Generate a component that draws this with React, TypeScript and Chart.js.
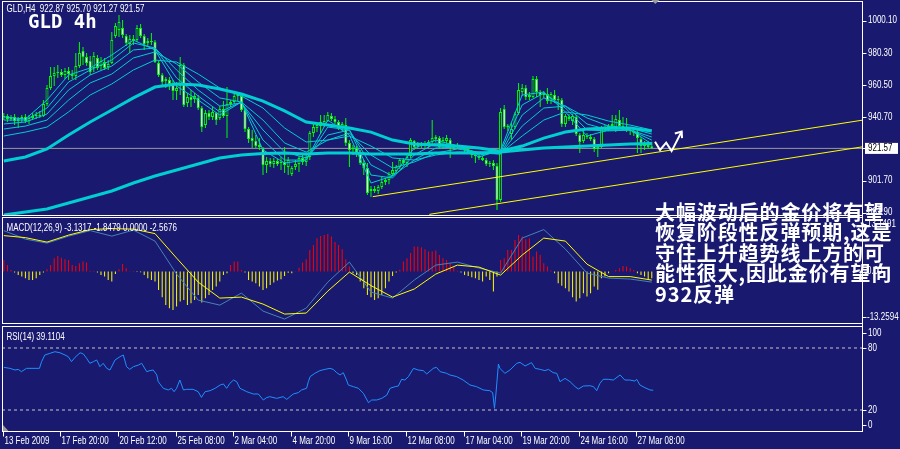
import React, { useEffect, useRef } from 'react';
import { Chart, registerables } from 'chart.js';

Chart.register(...registerables);

// ---------- data ----------
const OPEN = [
  940.9, 941.5, 939.6, 940.9, 938.4, 939.6, 940.9, 938.4, 940.3, 941.5, 942.1,
  941.5, 948.9, 958.7, 966.1, 967.9, 968.6, 966.7, 969.2, 967.3, 966.1,
  972.2, 981.5, 977.8, 975.3, 971.0, 977.2, 972.2, 974.7, 971.6, 974.1,
  990.7, 994.4, 995.6, 990.7, 985.8, 988.9, 988.2, 995.6, 990.7, 986.4,
  987.6, 987.0, 974.1, 966.7, 963.0, 963.6, 960.6, 956.9, 959.9, 972.9,
  949.5, 953.2, 951.9, 952.6, 946.4, 935.9, 943.3, 940.9, 943.3, 940.3,
  945.8, 941.5, 948.9, 950.1, 953.8, 953.8, 945.2, 933.5, 927.9, 926.1,
  923.7, 921.8, 911.4, 913.8, 912.0, 913.8, 912.6, 913.2, 910.1, 905.8,
  910.1, 912.0, 915.7, 913.2, 916.3, 931.0, 934.1, 935.3, 936.6, 938.4,
  941.5, 939.6, 937.8, 934.7, 935.9, 924.9, 921.2, 921.8, 918.7, 912.6,
  909.5, 895.4, 896.6, 895.4, 897.8, 900.9, 902.2, 905.8, 907.7, 910.1,
  914.4, 912.6, 916.9, 926.1, 923.0, 924.3, 923.0, 924.3, 925.5, 927.3,
  927.9, 923.0, 926.1, 926.7, 921.8, 923.7, 922.4, 921.8, 921.2, 919.3,
  917.5, 916.9, 915.7, 914.4, 912.0, 912.6, 910.7, 889.8, 945.8, 934.7,
  930.4, 934.7, 943.3, 956.2, 958.7, 953.2, 953.2, 964.2, 956.2, 954.4,
  955.0, 950.7, 954.4, 951.9, 951.3, 936.6, 940.9, 938.4, 940.9, 929.8,
  926.1, 929.2, 928.6, 927.3, 921.2, 922.4, 934.1, 932.9, 935.3, 934.7,
  939.0, 935.3, 934.1, 932.9, 932.3, 931.6, 927.3, 923.0, 923.7, 922.87,
];
const HIGH = [
  943.3, 942.7, 942.1, 942.7, 940.9, 942.1, 942.7, 942.1, 943.3, 944.0, 944.6,
  951.3, 960.6, 971.6, 971.6, 972.9, 970.4, 971.0, 971.6, 969.8, 980.2,
  987.0, 983.9, 980.2, 978.4, 980.9, 979.0, 977.8, 977.2, 975.9, 993.1,
  998.7, 1003.6, 1000.5, 991.9, 991.3, 991.3, 997.5, 998.1, 991.9, 989.5,
  992.5, 988.2, 975.3, 967.9, 965.5, 965.5, 963.6, 962.4, 977.8, 974.1,
  955.6, 957.5, 955.6, 954.4, 947.6, 945.2, 945.2, 947.0, 944.0, 947.6,
  950.7, 959.3, 951.3, 955.6, 956.2, 955.6, 946.4, 934.7, 932.9, 929.8,
  927.9, 922.4, 916.3, 915.7, 915.7, 915.0, 916.3, 922.4, 916.3, 910.7,
  914.4, 916.9, 917.5, 917.5, 932.3, 937.2, 936.6, 942.1, 942.1, 944.0,
  943.3, 941.5, 939.0, 937.8, 940.3, 926.7, 923.7, 923.0, 920.6, 914.4,
  912.6, 898.4, 898.4, 899.0, 904.0, 903.4, 907.1, 913.2, 911.4, 915.7,
  915.7, 917.5, 927.9, 926.7, 925.5, 925.5, 926.1, 926.7, 939.0, 929.8,
  929.2, 928.6, 929.8, 927.9, 924.3, 924.9, 923.7, 923.0, 922.4, 920.6,
  919.3, 918.1, 916.9, 915.7, 913.8, 914.4, 912.6, 946.4, 948.3, 936.6,
  937.2, 944.0, 961.8, 961.2, 960.6, 956.2, 966.1, 966.1, 957.5, 956.9,
  958.7, 956.2, 957.5, 953.8, 952.6, 942.7, 942.7, 942.7, 942.1, 931.0,
  932.3, 931.0, 930.4, 928.6, 923.7, 935.3, 935.9, 936.6, 942.1, 942.1,
  945.2, 940.9, 940.3, 934.7, 934.1, 932.9, 928.6, 926.1, 926.1, 925.70,
];
const LOW = [
  939.0, 937.8, 938.4, 935.9, 934.1, 937.8, 937.2, 936.6, 939.0, 939.6, 940.3,
  940.9, 947.6, 957.5, 959.9, 964.9, 965.5, 964.2, 963.6, 964.2, 963.6,
  971.0, 972.9, 972.2, 966.7, 968.6, 969.8, 969.8, 969.8, 969.8, 973.5,
  989.5, 990.1, 989.5, 984.5, 980.2, 985.2, 987.0, 989.5, 982.1, 983.9,
  985.2, 974.1, 965.5, 959.9, 958.7, 957.5, 951.3, 951.3, 954.4, 947.0,
  947.0, 947.0, 949.5, 945.2, 931.6, 934.1, 939.0, 939.0, 935.9, 939.0,
  940.3, 927.9, 947.0, 948.9, 950.7, 944.0, 931.6, 924.9, 921.8, 921.8,
  920.6, 905.2, 906.4, 910.1, 909.5, 910.7, 908.3, 906.4, 905.2, 904.6,
  908.3, 907.1, 911.4, 910.7, 914.4, 928.6, 931.6, 931.0, 934.7, 937.8,
  938.4, 936.6, 932.9, 932.3, 923.0, 910.1, 917.5, 916.3, 911.4, 905.2,
  892.9, 891.7, 894.1, 893.5, 896.6, 899.0, 899.6, 904.6, 905.8, 908.9,
  911.4, 910.1, 915.7, 920.6, 921.2, 921.8, 921.2, 921.8, 924.3, 925.5,
  921.2, 921.2, 922.4, 915.7, 920.6, 921.2, 920.6, 919.3, 918.1, 915.7,
  912.6, 914.4, 913.8, 910.7, 910.1, 908.3, 883.7, 888.6, 933.5, 932.3,
  926.7, 933.5, 942.1, 953.8, 951.3, 951.3, 952.6, 953.2, 947.0, 952.6,
  948.9, 948.9, 949.5, 945.2, 934.7, 934.7, 938.4, 935.9, 929.2, 918.7,
  924.9, 927.3, 926.1, 919.3, 916.3, 921.8, 931.6, 932.3, 933.5, 931.6,
  933.5, 932.9, 931.6, 929.8, 929.2, 918.7, 918.7, 920.6, 921.2, 921.27,
];
const CLOSE = [
  941.5, 939.6, 940.9, 938.4, 939.6, 940.9, 938.4, 940.3, 941.5, 942.1, 941.5,
  948.9, 958.7, 966.1, 967.9, 968.6, 966.7, 969.2, 967.3, 966.1, 972.2,
  980.2, 977.8, 974.1, 968.6, 978.4, 971.0, 975.3, 971.0, 973.5, 988.2,
  996.8, 999.3, 991.3, 986.4, 988.9, 987.6, 995.6, 990.7, 985.8, 987.6,
  987.0, 974.7, 966.7, 962.4, 964.2, 961.2, 956.9, 958.7, 972.9, 948.3,
  953.2, 951.3, 953.8, 946.4, 934.7, 943.3, 940.9, 944.0, 939.0, 945.8,
  941.5, 948.9, 950.1, 953.8, 955.0, 945.2, 933.5, 927.3, 926.1, 923.0,
  922.4, 911.4, 913.8, 912.0, 913.8, 912.0, 913.2, 911.4, 914.4, 909.5,
  912.0, 915.7, 913.2, 916.3, 931.0, 934.7, 935.9, 937.8, 938.4, 942.1,
  939.6, 937.8, 934.1, 936.6, 924.9, 920.6, 921.8, 918.7, 912.6, 909.5,
  894.1, 896.6, 895.4, 897.8, 900.9, 902.2, 905.8, 908.3, 910.1, 914.4,
  912.6, 916.3, 926.7, 922.4, 924.3, 923.0, 924.9, 925.5, 927.9, 928.6,
  922.4, 926.7, 927.9, 921.8, 923.7, 922.4, 921.8, 920.6, 919.3, 917.5,
  916.9, 915.7, 914.4, 912.0, 912.6, 910.7, 889.8, 944.0, 934.7, 935.3,
  933.5, 942.7, 957.5, 958.7, 953.2, 954.4, 964.2, 956.2, 954.4, 955.6,
  950.7, 955.0, 951.3, 951.3, 936.6, 941.5, 939.6, 941.5, 930.4, 925.5,
  929.8, 928.6, 927.3, 921.2, 922.4, 934.1, 932.9, 935.3, 936.6, 939.6,
  935.3, 934.1, 932.9, 932.3, 931.0, 927.9, 923.0, 924.3, 922.4, 921.57,
];

// moving averages, read every MA_STEP bars
const MA_STEP = 6;
const MA_SLOW = [880.6, 882.4, 884.3, 888.0, 891.7, 895.4, 900.3, 904.6, 908.3, 912.0, 915.7, 917.5, 918.4, 918.7, 918.1, 918.7, 918.7, 918.1, 918.1, 918.1, 918.7, 918.7, 918.7, 919.3, 920.6, 921.8, 922.4, 923.0, 923.7, 924.3, 924.6];
const MA_MID = [913.8, 916.3, 921.2, 929.8, 937.8, 945.2, 952.6, 959.3, 961.2, 960.6, 958.1, 955.0, 950.7, 944.6, 937.8, 935.9, 934.1, 931.6, 926.7, 924.3, 923.7, 923.0, 921.8, 919.9, 923.0, 927.9, 931.6, 933.5, 934.1, 934.1, 932.3];
const MA_F1 = [940.9, 939.6, 951.3, 966.7, 971.0, 979.0, 988.2, 982.1, 959.9, 951.3, 942.1, 950.1, 920.6, 912.6, 914.4, 939.0, 929.8, 900.3, 904.6, 921.8, 926.7, 923.0, 916.3, 920.6, 954.4, 956.2, 944.0, 929.2, 932.9, 932.9, 924.3];
const MA_F2 = [939.0, 939.0, 946.4, 962.4, 969.8, 975.9, 986.4, 983.3, 964.9, 953.8, 944.0, 950.1, 926.7, 914.4, 914.4, 934.7, 932.9, 905.2, 903.4, 917.5, 924.9, 923.0, 917.5, 919.3, 948.3, 955.6, 946.4, 932.9, 932.3, 932.9, 926.7];
const MA_F3 = [936.6, 937.8, 942.7, 957.5, 966.7, 972.2, 982.1, 983.3, 969.8, 957.5, 947.6, 949.5, 932.9, 919.3, 915.7, 929.8, 932.9, 911.4, 904.6, 914.4, 921.8, 922.4, 918.7, 918.1, 942.1, 952.6, 947.6, 936.6, 932.9, 932.9, 928.6];
const MA_F4 = [933.5, 935.3, 939.0, 951.3, 961.8, 967.3, 977.2, 980.9, 973.5, 962.4, 952.6, 950.1, 939.0, 924.9, 919.3, 926.7, 931.0, 917.5, 909.5, 913.2, 918.7, 921.2, 919.3, 918.1, 935.3, 946.4, 947.6, 940.3, 935.3, 934.1, 930.4];
const MA_F5 = [929.2, 931.6, 934.7, 944.0, 954.4, 961.2, 969.8, 975.9, 974.7, 967.3, 958.7, 953.8, 946.4, 934.1, 925.5, 926.7, 929.2, 923.0, 915.7, 914.4, 917.5, 919.3, 919.3, 918.7, 929.2, 939.0, 944.0, 942.1, 938.4, 935.9, 932.9];

// MACD lines (every MA_STEP bars) and histogram (every bar)
const MACD_MAIN = [10.41, 8.25, 7.24, 9.01, 10.41, 9.01, 10.54, 7.75, -0.63, -7.24, -8.51, -5.46, -10.03, -12.06, -9.27, -2.67, 2.41, -5.21, -6.73, -2.16, 1.65, 2.41, 0.89, -0.38, 8.51, 10.67, 5.71, -0.38, -1.65, -1.9, -2.67];
const MACD_SIGNAL = [9.14, 8.63, 7.49, 9.27, 10.67, 10.92, 10.79, 9.65, 3.43, -2.67, -6.73, -6.48, -8.25, -10.79, -10.54, -4.95, -0.13, -3.56, -6.48, -4.44, -0.63, 1.65, 1.14, -0.89, 4.19, 8.51, 7.75, 1.9, -1.27, -1.27, -2.16];
const MACD_HIST = [
  2.96, 1.69, 0.42, -0.2, -0.85, -1.27, -1.69, -2.12, -2.12, -1.69,
  -0.85, -0.2, 0.59, 1.69, 3.39, 3.98, 3.5, 3.13, 2.96, 1.69,
  1.44, 2.12, 2.54, 2.29, 0.2, 0.17, -0.2, -0.85, -1.27, -2.12,
  -2.54, -0.59, 0.59, 1.95, 0.85, 0.1, 0.17, -0.1, -0.17, -0.85,
  -1.69, -2.12, -2.54, -4.66, -6.52, -8.47, -9.31, -9.74, -8.89, -7.62,
  -7.2, -8.47, -8.04, -7.2, -5.93, -7.87, -6.77, -5.93, -4.66, -3.81,
  -2.54, -0.85, -0.42, 1.69, 2.54, 2.54, 0.42, -0.25, -2.12, -2.54,
  -2.96, -3.8, -4.66, -4.23, -3.39, -2.79, -2.29, -1.95, -1.1, -0.3,
  -0.42, 0.1, 1.0, 2.29, 3.13, 5.5, 6.77, 8.47, 9.06, 9.31,
  9.57, 8.89, 7.5, 6.77, 5.67, 3.13, 1.27, -0.42, -0.85, -2.54,
  -4.2, -5.93, -6.52, -7.2, -6.77, -5.93, -4.23, -2.54, -1.1, -0.2,
  0.5, 2.54, 3.39, 4.7, 6.35, 6.35, 6.18, 5.67, 5.08, 5.08,
  5.33, 4.23, 3.39, 2.96, 2.12, 1.1, 0.2, -0.2, -0.85, -1.1,
  -1.44, -1.69, -2.12, -2.54, -1.27, -2.12, -5.08, -1.27, 2.96, 3.39,
  5.5, 5.5, 8.04, 9.31, 8.89, 8.22, 8.47, 3.81, 5.08, 4.23,
  2.12, 1.27, 0.3, -0.42, -2.96, -3.6, -4.23, -5.08, -6.52, -7.62,
  -6.77, -5.5, -6.35, -5.5, -3.81, -4.6, -1.69, -1.27, -0.4, 0.1,
  0.42, 0.85, 1.44, 1.27, 0.85, 0.42, -0.42, -0.85, -1.27, -1.95, -1.69,
];

// RSI(14) vertices: bar position and value
const RSI_X = [
  0, 1.7, 3.1, 4.0, 4.9, 6.3, 9.9, 10.5, 11.4, 12.8, 14.2, 15.6, 17.0, 17.9, 18.8, 19.8, 21.2, 22.1, 23.0, 23.9,
  24.9, 25.8, 26.7, 27.6, 28.6, 29.5, 30.9, 32.3, 33.2, 34.1, 35.0, 36.0, 37.4, 38.3, 39.7, 40.6, 41.5, 42.5, 42.9, 44.3,
  45.7, 46.6, 47.3, 48.0, 48.9, 49.9, 50.8, 52.6, 54.0, 54.9, 55.9, 57.3, 58.7, 60.1, 61.0, 61.9, 62.8, 63.8, 64.7, 65.6,
  67.5, 69.3, 70.7, 72.1, 73.0, 73.9, 75.8, 77.6, 78.6, 79.5, 80.4, 81.8, 82.7, 84.1, 84.6, 85.1, 86.4, 87.8, 89.2, 90.6,
  91.5, 92.5, 93.4, 94.3, 95.2, 95.7, 97.1, 98.5, 99.9, 101.3, 102.2, 103.6, 105.0, 106.4, 107.3, 108.7, 109.6, 110.5, 111.4, 112.4,
  113.8, 115.1, 116.5, 117.5, 119.3, 120.2, 121.2, 123.0, 123.9, 125.8, 127.6, 129.5, 131.3, 133.2, 135.0, 135.8, 136.3, 136.7, 137.0, 137.4,
  137.8, 139.2, 140.6, 142.5, 143.4, 144.8, 146.6, 147.6, 149.0, 150.3, 151.3, 152.6, 153.6, 154.5, 155.9, 157.3, 158.7, 159.6, 161.0, 162.8,
  163.8, 164.7, 165.6, 166.5, 167.9, 169.3, 171.2, 172.5, 173.9, 175.3, 175.8, 176.7, 178.1, 179.5, 180.4,
];
const RSI_V = [
  61.3, 60.3, 58.7, 59.3, 57.1, 60.3, 60.3, 66.8, 73.2, 74.8, 76.4, 75.4, 73.2, 71.6, 66.8, 71.0, 75.4, 74.2, 70.0, 65.2,
  66.8, 68.4, 61.9, 65.2, 60.3, 58.7, 68.4, 71.6, 73.2, 61.9, 59.3, 61.9, 63.5, 65.2, 57.1, 58.1, 58.7, 53.9, 47.4, 41.0,
  39.4, 41.0, 37.7, 41.0, 49.0, 39.4, 40.0, 40.0, 37.7, 32.2, 37.7, 38.7, 41.0, 44.2, 45.2, 41.0, 45.8, 49.0, 47.4, 41.0,
  37.7, 35.5, 35.5, 29.7, 32.0, 32.9, 31.3, 32.9, 30.3, 32.9, 35.5, 36.8, 39.4, 41.0, 47.4, 52.3, 55.5, 58.1, 59.3, 60.3,
  59.3, 56.1, 53.9, 56.1, 49.0, 44.2, 42.6, 41.0, 36.1, 27.1, 29.7, 29.7, 31.3, 34.5, 41.0, 42.6, 43.2, 49.7, 49.0, 52.3,
  60.3, 58.7, 58.1, 54.9, 60.3, 61.3, 57.1, 55.5, 53.9, 52.3, 49.0, 44.2, 42.6, 39.4, 38.7, 36.8, 21.6, 35.5, 48.0, 64.5,
  60.3, 55.5, 58.7, 65.2, 66.1, 62.6, 65.8, 60.3, 59.3, 58.1, 59.3, 56.1, 55.5, 47.4, 50.6, 47.4, 42.6, 40.3, 43.2, 43.5,
  42.6, 38.7, 45.8, 49.7, 49.7, 49.0, 53.9, 49.0, 49.0, 48.0, 49.7, 44.2, 41.6, 39.4, 39.1,
];
const RSI_LEVELS = [80, 20];

// trend lines and hand-drawn arrow (bar position, price)
const TREND_A_X = [102.5, 238.7];
const TREND_A_Y = [891.9, 939.0];
const TREND_B_X = [118.2, 238.7];
const TREND_B_Y = [881.0, 922.6];
const ARROW_X = [180.9, 182.3, 184.0, 185.5, 188.3];
const ARROW_Y = [925.7, 920.6, 925.1, 919.9, 931.96];
const ARROW_HEAD_X = [186.4, 188.3, 188.4];
const ARROW_HEAD_Y = [930.7, 931.96, 927.9];

// axis labels
const TIME_LABELS = ['13 Feb 2009', '17 Feb 20:00', '20 Feb 12:00', '25 Feb 08:00', '2 Mar 04:00', '4 Mar 20:00', '9 Mar 16:00', '12 Mar 08:00', '17 Mar 04:00', '19 Mar 20:00', '24 Mar 16:00', '27 Mar 08:00'];
const LABEL_STEP = 16;
const PRICE_TICKS = [1000.1, 980.3, 960.5, 940.7, 901.7, 881.9];
const LAST_PRICE = 921.57;
const MACD_TICKS = [13.1491, 0, -13.2594];
const MACD_TICK_TEXT = ['13.1491', '0.00', '-13.2594'];
const RSI_TICKS = [100, 80, 20, 0];

const TITLE_MAIN = 'GLD,H4  922.87 925.70 921.27 921.57';
const TITLE_BIG = 'GLD 4h';
const TITLE_MACD = 'MACD(12,26,9) -3.1317 -1.8479 0.0000 -2.5676';
const TITLE_RSI = 'RSI(14) 39.1104';
const NOTE_LINES = ['大幅波动后的金价将有望', '恢复阶段性反弹预期,这是', '守住上升趋势线上方的可', '能性很大,因此金价有望向', '932反弹'];

// ---------- style ----------
const W = 900;
const H = 449;
const BG = '#191970';
const GREEN = '#00ff00';
const CYAN = '#00ced1';
const YELLOW = '#ffff00';
const RED = '#ff0000';
const STEEL = '#4682b4';
const RSI_BLUE = '#1e90ff';
const FONT = '10px "Liberation Sans", Arial, sans-serif';
const NARROW = 0.8;
const X_MIN = -0.5;
const X_MAX = 238.67;

const pts = (xs: number[], ys: number[]) => ys.map((y, k) => ({ x: xs[k], y }));
const MA_IDX = MA_SLOW.map((_, k) => k * MA_STEP);

const lineDs = (data: any[], color: string, width: number, yAxisID: string, order: number, extra: any = {}) => ({
  type: 'line',
  data,
  borderColor: color,
  backgroundColor: color,
  borderWidth: width,
  pointRadius: 0,
  tension: 0,
  fill: false,
  xAxisID: 'x',
  yAxisID,
  order,
  ...extra,
});

// narrow text, like the terminal's small bitmap font
const txt = (ctx: any, s: string, x: number, y: number) => {
  ctx.save();
  ctx.translate(x, y);
  ctx.scale(NARROW, 1);
  ctx.fillText(s, 0, 0);
  ctx.restore();
};

const framePlugin = {
  id: 'mt4Frame',
  beforeDraw(chart: any) {
    const ctx = chart.ctx;
    ctx.save();
    ctx.fillStyle = BG;
    ctx.fillRect(0, 0, chart.width, chart.height);
    ctx.restore();
  },
  beforeDatasetDraw(chart: any, args: any) {
    const id = args.meta.yAxisID;
    const s = chart.scales[id];
    const a = chart.chartArea;
    let t = s.top;
    let b = s.bottom;
    if (id === 'yMain') { t = s.top - 1; b = s.bottom - 1; }
    else if (id === 'yMacd') { t = s.top + 2; b = s.bottom - 1; }
    else { t = s.top + 3; b = s.bottom; }
    const ctx = chart.ctx;
    ctx.save();
    ctx.beginPath();
    ctx.rect(a.left + 1, t, a.right - a.left - 1, b - t);
    ctx.clip();
  },
  afterDatasetDraw(chart: any) {
    chart.ctx.restore();
  },
  afterDatasetsDraw(chart: any) {
    const ctx = chart.ctx;
    const a = chart.chartArea;
    const m = chart.scales.yMain;
    const d = chart.scales.yMacd;
    const r = chart.scales.yRsi;
    const xs = chart.scales.x;
    const L = a.left + 0.5;
    const R = a.right - 0.5;
    ctx.save();
    // panel frames
    ctx.strokeStyle = '#ffffff';
    ctx.lineWidth = 1;
    const panels = [
      [m.top - 0.5, m.bottom - 0.5],
      [d.top + 1.5, d.bottom - 0.5],
      [r.top + 2.5, r.bottom + 0.5],
    ];
    panels.forEach(([t, b]) => ctx.strokeRect(L, t, R - L, b - t));
    ctx.beginPath();
    ctx.moveTo(R, m.top - 0.5);
    ctx.lineTo(R, r.bottom + 0.5);
    ctx.stroke();

    // small grey markers
    ctx.fillStyle = '#9a9a9a';
    const shiftX = xs.getPixelForValue(CLOSE.length);
    ctx.beginPath();
    ctx.moveTo(shiftX - 4, m.top - 2);
    ctx.lineTo(shiftX + 4, m.top - 2);
    ctx.lineTo(shiftX, m.top + 2);
    ctx.closePath();
    ctx.fill();
    ctx.beginPath();
    ctx.moveTo(L + 0.5, r.bottom - 6);
    ctx.lineTo(L + 0.5, r.bottom);
    ctx.lineTo(L + 6, r.bottom);
    ctx.closePath();
    ctx.fill();

    ctx.font = FONT;
    ctx.textAlign = 'left';
    ctx.textBaseline = 'middle';
    const tick = (y: number) => {
      const yy = Math.round(y) + 0.5;
      ctx.strokeStyle = '#ffffff';
      ctx.beginPath();
      ctx.moveTo(R, yy);
      ctx.lineTo(R + 4, yy);
      ctx.stroke();
    };
    const clamp = (v: number, lo: number, hi: number) => Math.max(lo, Math.min(hi, v));

    // main price axis
    PRICE_TICKS.forEach((v) => {
      const y = m.getPixelForValue(v);
      tick(y);
      ctx.fillStyle = '#ffffff';
      txt(ctx, v.toFixed(2), R + 5.5, clamp(y, m.top + 5, m.bottom - 3.5));
    });
    const yl = m.getPixelForValue(LAST_PRICE);
    tick(yl);
    ctx.fillStyle = '#ffffff';
    ctx.fillRect(R + 2.5, yl - 5.5, 33, 11);
    ctx.fillStyle = '#000000';
    txt(ctx, LAST_PRICE.toFixed(2), R + 5.5, yl);

    // MACD axis
    MACD_TICKS.forEach((v, k) => {
      const y = d.getPixelForValue(v);
      const yy = clamp(y, d.top + 8, d.bottom - 7);
      tick(yy);
      ctx.fillStyle = '#ffffff';
      txt(ctx, MACD_TICK_TEXT[k], R + 4.5, yy);
    });

    // RSI axis
    RSI_TICKS.forEach((v) => {
      const y = r.getPixelForValue(v);
      const yy = clamp(y, r.top + 9, r.bottom - 6);
      tick(yy);
      ctx.fillStyle = '#ffffff';
      txt(ctx, String(v), R + 5.5, yy);
    });

    // time axis
    ctx.textBaseline = 'alphabetic';
    TIME_LABELS.forEach((lab, k) => {
      const x = xs.getPixelForValue(k * LABEL_STEP);
      const xx = Math.round(x) - 0.5;
      ctx.strokeStyle = '#ffffff';
      ctx.beginPath();
      ctx.moveTo(xx, r.bottom + 0.5);
      ctx.lineTo(xx, r.bottom + 5.5);
      ctx.stroke();
      ctx.fillStyle = '#ffffff';
      txt(ctx, lab, xx + 1, r.bottom + 13);
    });

    // titles
    ctx.fillStyle = '#ffffff';
    txt(ctx, TITLE_MAIN, L + 4, m.top + 10);
    txt(ctx, TITLE_MACD, L + 4, d.top + 14.5);
    txt(ctx, TITLE_RSI, L + 4, r.top + 16);
    ctx.font = 'bold 19px "DejaVu Sans Mono", "Liberation Mono", monospace';
    ctx.fillText(TITLE_BIG, 28, m.top + 26);
    ctx.restore();
  },
  afterDraw(chart: any) {
    const ctx = chart.ctx;
    ctx.save();
    ctx.fillStyle = '#ffffff';
    ctx.font = 'bold 20px "Noto Sans CJK SC", sans-serif';
    (ctx as any).letterSpacing = '0.9px';
    ctx.textAlign = 'left';
    ctx.textBaseline = 'middle';
    NOTE_LINES.forEach((s, k) => {
      ctx.fillText(s, 655, 212 + k * 20.5);
    });
    ctx.restore();
  },
};

function buildConfig(): any {
  const wicks = CLOSE.map((_, i) => ({ x: i, y: [LOW[i], HIGH[i]] }));
  const bodies = CLOSE.map((c, i) => {
    const lo = Math.min(OPEN[i], c);
    const hi = Math.max(OPEN[i], c);
    return { x: i, y: hi - lo < 0.6 ? [lo - 0.3, hi + 0.3] : [lo, hi] };
  });
  const bodyColors = CLOSE.map((c, i) => (c < OPEN[i] ? '#ffffff' : BG));
  const hist = MACD_HIST.map((v, i) => ({ x: i, y: v }));
  const histColors = MACD_HIST.map((v) => (v >= 0 ? RED : YELLOW));

  const datasets: any[] = [
    lineDs([{ x: X_MIN, y: LAST_PRICE }, { x: X_MAX, y: LAST_PRICE }], '#9a9a9a', 1, 'yMain', 30),
    {
      type: 'bar', data: wicks, backgroundColor: GREEN, borderWidth: 0, barThickness: 1,
      grouped: false, inflateAmount: 0, xAxisID: 'x', yAxisID: 'yMain', order: 25,
    },
    {
      type: 'bar', data: bodies, backgroundColor: bodyColors, borderColor: GREEN, borderWidth: 1,
      borderSkipped: false, barThickness: 3, grouped: false, inflateAmount: 0, xAxisID: 'x', yAxisID: 'yMain', order: 24,
    },
    lineDs(pts(MA_IDX, MA_F5), CYAN, 1, 'yMain', 20),
    lineDs(pts(MA_IDX, MA_F4), CYAN, 1, 'yMain', 20),
    lineDs(pts(MA_IDX, MA_F3), CYAN, 1, 'yMain', 20),
    lineDs(pts(MA_IDX, MA_F2), CYAN, 1, 'yMain', 20),
    lineDs(pts(MA_IDX, MA_F1), CYAN, 1, 'yMain', 20),
    lineDs(pts(MA_IDX, MA_SLOW), CYAN, 3, 'yMain', 18),
    lineDs(pts(MA_IDX, MA_MID), CYAN, 3, 'yMain', 18),
    lineDs(pts(TREND_A_X, TREND_A_Y), YELLOW, 1, 'yMain', 10),
    lineDs(pts(TREND_B_X, TREND_B_Y), YELLOW, 1, 'yMain', 10),
    lineDs(pts(ARROW_X, ARROW_Y), '#ffffff', 2, 'yMain', 8),
    lineDs(pts(ARROW_HEAD_X, ARROW_HEAD_Y), '#ffffff', 2, 'yMain', 8),
    {
      type: 'bar', data: hist, backgroundColor: histColors, borderWidth: 0, barThickness: 1,
      grouped: false, inflateAmount: 0, xAxisID: 'x', yAxisID: 'yMacd', order: 25,
    },
    lineDs(pts(MA_IDX, MACD_MAIN), STEEL, 1, 'yMacd', 12),
    lineDs(pts(MA_IDX, MACD_SIGNAL), YELLOW, 1, 'yMacd', 11),
    ...RSI_LEVELS.map((lv) =>
      lineDs([{ x: X_MIN, y: lv }, { x: X_MAX, y: lv }], '#c8c8c8', 1, 'yRsi', 20, { borderDash: [3, 3] })),
    lineDs(pts(RSI_X, RSI_V), RSI_BLUE, 1, 'yRsi', 10),
  ];

  const yBase = { type: 'linear', position: 'right', display: false, stack: 'panels', beginAtZero: false, bounds: 'data', grace: 0 };

  return {
    type: 'bar',
    data: { datasets },
    options: {
      responsive: false,
      maintainAspectRatio: false,
      devicePixelRatio: 1,
      animation: false,
      events: [],
      layout: { padding: { left: 2, right: 37, top: 2, bottom: 18 } },
      plugins: { legend: { display: false }, tooltip: { enabled: false }, title: { display: false } },
      scales: {
        x: { type: 'linear', min: X_MIN, max: X_MAX, offset: false, display: false, bounds: 'data', grid: { offset: false } },
        yMain: { ...yBase, min: 880.0, max: 1011.6, stackWeight: 214, weight: 1 },
        yMacd: { ...yBase, min: -13.31, max: 14.12, stackWeight: 108, weight: 2 },
        yRsi: { ...yBase, min: -0.3, max: 103.2, stackWeight: 107, weight: 3 },
      },
    },
    plugins: [framePlugin],
  };
}

export default function App() {
  const ref = useRef<HTMLCanvasElement | null>(null);
  useEffect(() => {
    const canvas = ref.current;
    if (!canvas) return;
    const chart = new Chart(canvas, buildConfig());
    return () => chart.destroy();
  }, []);
  return (
    <div style={{ position: 'fixed', left: 0, top: 0, width: W, height: H, background: BG, overflow: 'hidden' }}>
      <canvas ref={ref} width={W} height={H} style={{ display: 'block', width: W, height: H }} />
    </div>
  );
}
